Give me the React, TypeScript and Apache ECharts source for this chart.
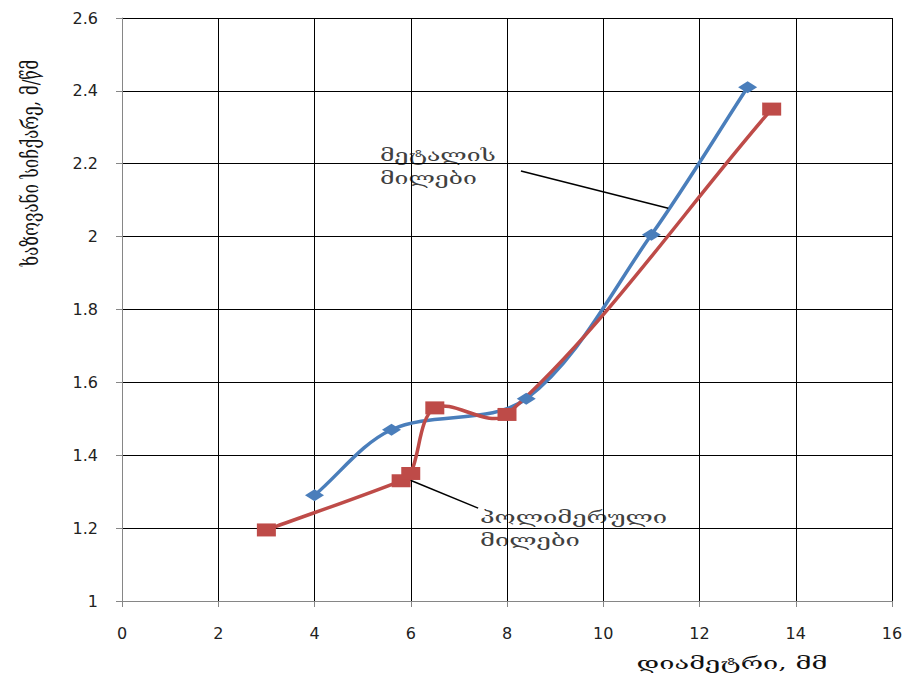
import React, { useEffect, useRef } from "react";
import * as echarts from "echarts";

const metalX = [4, 5.6, 8.4, 11, 13];
const metalY = [1.29, 1.47, 1.555, 2.005, 2.41];
const polyX = [3, 5.8, 6, 6.5, 8, 13.5];
const polyY = [1.195, 1.33, 1.35, 1.53, 1.512, 2.35];
const xTicks = { min: 0, max: 16, interval: 2 };
const yTicks = { min: 1, max: 2.6, interval: 0.2 };
const yName = "ხაზოვანი სიჩქარე, მ/წმ";
const xName = "დიამეტრი, მმ";
const metalLabel = ["მეტალის", "მილები"];
const polyLabel = ["პოლიმერული", "მილები"];
const metalLeader = [[8.29, 2.18], [11.35, 2.078]];
const polyLeader = [[5.98, 1.332], [7.4, 1.255]];

const BLUE = "#4A7EBB";
const RED = "#BE4B48";
const GEO_FONT = "'DejaVu Serif', 'DejaVu Sans', serif";

function curveSeries(xs: number[], ys: number[], color: string, leader: number[][]) {
  const n = xs.length;
  const clampIdx = (k: number) => Math.max(0, Math.min(n - 1, k));
  return {
    type: "custom",
    data: xs.map((x, i) => [x, ys[i]]),
    encode: { x: 0, y: 1 },
    clip: false,
    z: 3,
    silent: true,
    renderItem: (params: any, api: any) => {
      const i = params.dataIndex;
      if (i >= n - 1) return { type: "group", children: [] };
      const P = (k: number) => {
        const c = clampIdx(k);
        return api.coord([xs[c], ys[c]]);
      };
      const p0 = P(i - 1), p1 = P(i), p2 = P(i + 1), p3 = P(i + 2);
      const d = (a: number[], b: number[]) => Math.hypot(a[0] - b[0], a[1] - b[1]);
      const d01 = d(p0, p1), d12 = d(p1, p2), d23 = d(p2, p3);
      const k = 1 / 3;
      const r1 = d12 / (d01 + d12 || 1);
      const r2 = d12 / (d12 + d23 || 1);
      const cp1 = [p1[0] + (p2[0] - p0[0]) * k * r1, p1[1] + (p2[1] - p0[1]) * k * r1];
      const cp2 = [p2[0] - (p3[0] - p1[0]) * k * r2, p2[1] - (p3[1] - p1[1]) * k * r2];
      return {
        type: "bezierCurve",
        shape: {
          x1: p1[0], y1: p1[1], x2: p2[0], y2: p2[1],
          cpx1: cp1[0], cpy1: cp1[1], cpx2: cp2[0], cpy2: cp2[1],
        },
        style: { stroke: color, lineWidth: 3.5, fill: null, lineCap: "round", lineJoin: "round" },
      };
    },
    markLine: {
      silent: true,
      symbol: ["none", "none"],
      label: { show: false },
      lineStyle: { color: "#000", width: 1.5, type: "solid" },
      data: [[{ coord: leader[0] }, { coord: leader[1] }]],
    },
  };
}

export default function App() {
  const ref = useRef<HTMLDivElement>(null);
  useEffect(() => {
    if (!ref.current) return;
    const chart = echarts.init(ref.current, null, { renderer: "svg" });
    const axisCommon = {
      type: "value",
      axisLine: { show: true, onZero: false, lineStyle: { color: "#868686", width: 1 } },
      axisTick: { show: true, length: 6, lineStyle: { color: "#868686" } },
      axisLabel: { color: "#222", fontSize: 16, fontFamily: "DejaVu Sans", margin: 24 },
      splitLine: { show: true, lineStyle: { color: "#000", width: 1 } },
    };
    chart.setOption({
      animation: false,
      backgroundColor: "#fff",
      grid: { left: 122, right: 18, top: 18, bottom: 78, containLabel: false },
      xAxis: { ...axisCommon, min: xTicks.min, max: xTicks.max, interval: xTicks.interval },
      yAxis: { ...axisCommon, min: yTicks.min, max: yTicks.max, interval: yTicks.interval },
      series: [
        curveSeries(metalX, metalY, BLUE, metalLeader),
        curveSeries(polyX, polyY, RED, polyLeader),
        {
          type: "scatter",
          data: metalX.map((x, i) => [x, metalY[i]]),
          symbol: "diamond",
          symbolSize: [19, 12],
          itemStyle: { color: BLUE, opacity: 1 },
          z: 5,
        },
        {
          type: "scatter",
          data: polyX.map((x, i) => [x, polyY[i]]),
          symbol: "rect",
          symbolSize: [19, 13],
          itemStyle: { color: RED, opacity: 1 },
          z: 6,
        },
      ],
      graphic: [
        {
          type: "text",
          x: 30,
          y: 163,
          rotation: Math.PI / 2,
          scaleY: 1.35,
          style: {
            text: yName,
            font: `17px ${GEO_FONT}`,
            fill: "#111",
            align: "center",
            verticalAlign: "middle",
          },
        },
        {
          type: "text",
          x: 732,
          y: 663,
          scaleX: 1.6,
          style: {
            text: xName,
            font: `17px ${GEO_FONT}`,
            fill: "#111",
            align: "center",
            verticalAlign: "middle",
          },
        },
        {
          type: "text",
          x: 380,
          y: 144,
          scaleX: 1.55,
          style: {
            text: metalLabel.join("\n"),
            font: `16px ${GEO_FONT}`,
            lineHeight: 23,
            fill: "#404040",
          },
        },
        {
          type: "text",
          x: 480,
          y: 506,
          scaleX: 1.6,
          style: {
            text: polyLabel.join("\n"),
            font: `16px ${GEO_FONT}`,
            lineHeight: 23,
            fill: "#404040",
          },
        },
      ],
    });
    return () => chart.dispose();
  }, []);
  return (
    <div
      ref={ref}
      style={{ position: "fixed", left: 0, top: 0, width: 910, height: 679 }}
    />
  );
}
